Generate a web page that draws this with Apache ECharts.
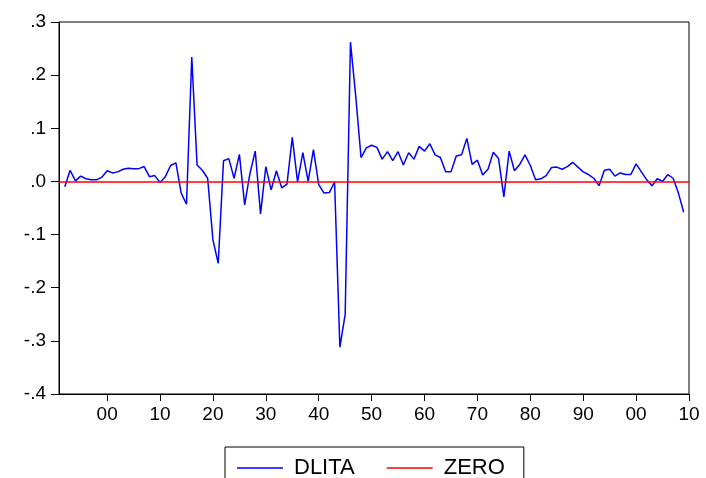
<!DOCTYPE html>
<html>
<head>
<meta charset="utf-8">
<script src="https://cdn.jsdelivr.net/npm/echarts@6/dist/echarts.min.js"></script>
<style>
html,body{margin:0;padding:0;background:#fff;}
#chart{width:706px;height:478px;}
</style>
</head>
<body>
<div id="chart"></div>
<script>
const years = [1892,1893,1894,1895,1896,1897,1898,1899,1900,1901,1902,1903,1904,1905,1906,1907,1908,1909,
  1910,1911,1912,1913,1914,1915,1916,1917,1918,1919,1920,1921,1922,1923,1924,1925,1926,1927,1928,1929,
  1930,1931,1932,1933,1934,1935,1936,1937,1938,1939,1940,1941,1942,1943,1944,1945,1946,1947,1948,1949,
  1950,1951,1952,1953,1954,1955,1956,1957,1958,1959,1960,1961,1962,1963,1964,1965,1966,1967,1968,1969,
  1970,1971,1972,1973,1974,1975,1976,1977,1978,1979,1980,1981,1982,1983,1984,1985,1986,1987,1988,1989,
  1990,1991,1992,1993,1994,1995,1996,1997,1998,1999,2000,2001,2002,2003,2004,2005,2006,2007,2008,2009];

const dlita = [-0.010,0.021,0.001,0.010,0.005,0.003,0.003,0.008,0.020,0.016,0.018,0.023,0.025,0.024,0.024,0.028,0.009,0.011,
  -0.002,0.009,0.030,0.035,-0.022,-0.043,0.234,0.031,0.021,0.006,-0.110,-0.154,0.039,0.043,0.006,0.051,-0.044,0.015,0.057,-0.061,
  0.028,-0.016,0.020,-0.012,-0.005,0.083,-0.001,0.054,0.000,0.060,-0.006,-0.022,-0.021,-0.001,-0.312,-0.250,0.262,0.160,0.045,0.063,
  0.068,0.064,0.042,0.056,0.039,0.056,0.031,0.054,0.042,0.066,0.057,0.071,0.050,0.045,0.018,0.018,0.048,0.050,0.081,0.032,
  0.040,0.012,0.023,0.055,0.043,-0.029,0.057,0.020,0.032,0.050,0.030,0.003,0.005,0.011,0.026,0.027,0.023,0.028,0.036,0.027,
  0.018,0.013,0.006,-0.008,0.021,0.023,0.010,0.016,0.013,0.013,0.033,0.018,0.003,-0.008,0.005,0.000,0.013,0.006,-0.022,-0.058];

const zeroLevel = 0;

const xTickYears = [1900,1910,1920,1930,1940,1950,1960,1970,1980,1990,2000,2010];
const xTickLabels = ['00','10','20','30','40','50','60','70','80','90','00','10'];
const yTickLabels = {'-4':'-.4','-3':'-.3','-2':'-.2','-1':'-.1','0':'.0','1':'.1','2':'.2','3':'.3'};

const seriesNames = ['DLITA','ZERO'];
const seriesColors = ['#0000ff','#ff0000'];

const FONT = "'Liberation Sans', Arial, sans-serif";
const LINE_ICON = 'path://M0,0H46V1.5H0Z';

const chart = echarts.init(document.getElementById('chart'), null, {renderer:'canvas'});
const dlitaData = years.map((y, i) => [y, dlita[i]]);

chart.setOption({
  animation: false,
  backgroundColor: '#ffffff',
  grid: {
    left: 59, right: 17, top: 22, bottom: 84,
    show: true, borderColor: '#000', borderWidth: 1, backgroundColor: 'transparent'
  },
  xAxis: {
    type: 'value',
    min: 1890.9, max: 2010,
    axisLine: {show: true, onZero: false, lineStyle: {color: '#000', width: 1}},
    axisTick: {show: true, length: 7, lineStyle: {color: '#000'}, customValues: xTickYears},
    axisLabel: {
      customValues: xTickYears,
      margin: 11,
      color: '#000', fontSize: 19, fontFamily: FONT,
      formatter: function (v) {
        const idx = xTickYears.indexOf(Math.round(v));
        return idx >= 0 ? xTickLabels[idx] : '';
      }
    },
    splitLine: {show: false}
  },
  yAxis: {
    type: 'value',
    min: -0.4, max: 0.3, interval: 0.1,
    axisLine: {show: true, lineStyle: {color: '#000', width: 1}},
    axisTick: {show: true, length: 8, lineStyle: {color: '#000'}},
    axisLabel: {
      margin: 13,
      color: '#000', fontSize: 19, fontFamily: FONT,
      formatter: function (v) { return yTickLabels[String(Math.round(v * 10))]; }
    },
    splitLine: {show: false}
  },
  legend: {
    data: [
      {name: seriesNames[0], icon: LINE_ICON},
      {name: seriesNames[1], icon: LINE_ICON}
    ],
    left: 225, top: 447,
    orient: 'horizontal',
    itemWidth: 46, itemHeight: 16, itemGap: 32,
    symbolKeepAspect: true,
    padding: [10, 19, 20, 12],
    borderColor: '#000', borderWidth: 1,
    backgroundColor: '#fff',
    itemStyle: {borderWidth: 0},
    textStyle: {color: '#000', fontSize: 22, fontFamily: FONT, padding: [0, 0, 0, 6]}
  },
  series: [
    {
      name: seriesNames[0], type: 'line',
      data: dlitaData,
      showSymbol: false, symbol: 'none',
      color: seriesColors[0],
      lineStyle: {color: seriesColors[0], width: 1.5},
      z: 3
    },
    {
      name: seriesNames[1], type: 'line',
      data: [],
      showSymbol: false, symbol: 'none',
      color: seriesColors[1],
      lineStyle: {color: seriesColors[1], width: 1.5},
      markLine: {
        silent: true, symbol: 'none', label: {show: false},
        lineStyle: {color: seriesColors[1], width: 1.5, type: 'solid'},
        data: [{yAxis: zeroLevel}]
      },
      z: 2
    }
  ]
});
</script>
</body>
</html>
